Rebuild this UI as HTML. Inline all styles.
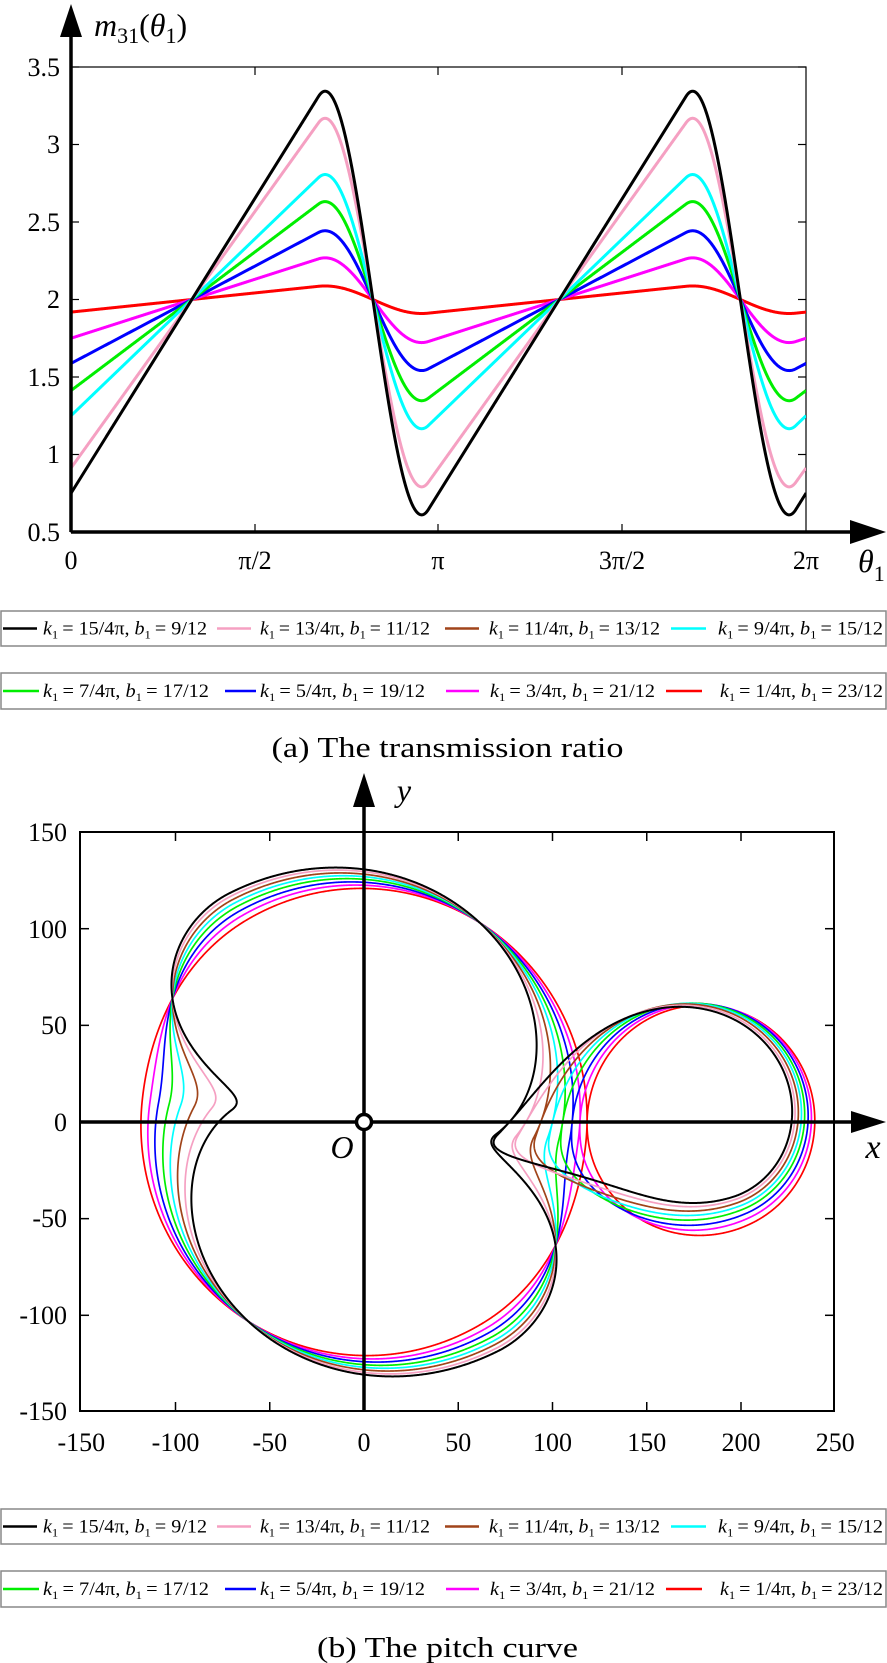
<!DOCTYPE html>
<html><head><meta charset="utf-8"><style>
html,body{margin:0;padding:0;background:#fff;}
svg{display:block;}
text{font-family:"Liberation Serif",serif;fill:#000;}
</style></head><body>
<svg id="s" width="887" height="1663" viewBox="0 0 887 1663" xmlns="http://www.w3.org/2000/svg">
<defs>
<clipPath id="c1"><rect x="71" y="67" width="735" height="465"/></clipPath>
<clipPath id="c2"><rect x="80" y="832" width="754" height="579"/></clipPath>
</defs>
<rect x="71" y="67" width="735" height="465" fill="none" stroke="#000" stroke-width="1.2"/>
<g id="topticks" stroke="#000" stroke-width="1.2"></g>
<g id="topcurves" clip-path="url(#c1)" fill="none" stroke-width="3" stroke-linejoin="round"></g>
<line x1="71" y1="532" x2="855" y2="532" stroke="#000" stroke-width="3.5"/>
<polygon points="886,532 850,520 850,544" fill="#000"/>
<line x1="71" y1="532" x2="71" y2="35" stroke="#000" stroke-width="3.5"/>
<polygon points="71,4 60,37 82,37" fill="#000"/>
<text x="94" y="36" font-size="32"><tspan font-style="italic">m</tspan><tspan font-size="22" dy="7">31</tspan><tspan dy="-7">(</tspan><tspan font-style="italic">θ</tspan><tspan font-size="22" dy="7">1</tspan><tspan dy="-7">)</tspan></text>
<g font-size="26" text-anchor="end">
<text x="60" y="76">3.5</text><text x="60" y="153">3</text><text x="60" y="231">2.5</text><text x="60" y="308">2</text><text x="60" y="386">1.5</text><text x="60" y="463">1</text><text x="60" y="541">0.5</text>
</g>
<g font-size="26" text-anchor="middle">
<text x="71" y="569">0</text><text x="255" y="569">π/2</text><text x="438" y="569">π</text><text x="622" y="569">3π/2</text><text x="806" y="569">2π</text>
</g>
<text x="858" y="572" font-size="32"><tspan font-style="italic">θ</tspan><tspan font-size="22" dy="9">1</tspan></text>

<g id="leg"></g>
<text x="447.5" y="757" font-size="29" text-anchor="middle" textLength="352" lengthAdjust="spacingAndGlyphs">(a) The transmission ratio</text>
<text x="447.5" y="1657" font-size="29" text-anchor="middle" textLength="261" lengthAdjust="spacingAndGlyphs">(b) The pitch curve</text>

<rect x="80" y="832" width="754" height="579" fill="none" stroke="#000" stroke-width="2"/>
<g id="botticks" stroke="#000" stroke-width="1.5"></g>
<g id="botcurves" clip-path="url(#c2)" fill="none" stroke-linejoin="round"></g>
<line x1="80" y1="1122" x2="856" y2="1122" stroke="#000" stroke-width="3.5"/>
<polygon points="886,1122 851,1111 851,1133" fill="#000"/>
<line x1="364" y1="1411" x2="364" y2="805" stroke="#000" stroke-width="3.5"/>
<polygon points="364,773 353,807 375,807" fill="#000"/>
<circle cx="364" cy="1122" r="7.5" fill="#fff" stroke="#000" stroke-width="3.5"/>
<text x="404" y="801" font-size="32" font-style="italic" text-anchor="middle">y</text>
<text x="342" y="1158" font-size="32" font-style="italic" text-anchor="middle">O</text>
<text x="873" y="1158" font-size="34" font-style="italic" text-anchor="middle">x</text>
<g font-size="26" text-anchor="end">
<text x="67" y="841">150</text><text x="67" y="938">100</text><text x="67" y="1034">50</text><text x="67" y="1131">0</text><text x="67" y="1227">-50</text><text x="67" y="1324">-100</text><text x="67" y="1420">-150</text>
</g>
<g font-size="26" text-anchor="middle" id="bxl"></g>
</svg>
<script>
var NS="http://www.w3.org/2000/svg";
function el(p,tag,attrs,txt){var e=document.createElementNS(NS,tag);for(var k in attrs)e.setAttribute(k,attrs[k]);if(txt!==undefined)e.textContent=txt;p.appendChild(e);return e;}
var PI=Math.PI;
var cols={black:"#000000",pink:"#f5a0c2",brown:"#a0441a",cyan:"#00ffff",green:"#00ee00",blue:"#0000ff",magenta:"#ff00ff",red:"#ff0000"};
var series=[["red",0.065],["magenta",0.2],["blue",0.33],["green",0.47],["cyan",0.6],["brown",0.73],["pink",0.87],["black",1]];
function F(t){t=((t%PI)+PI)%PI;var L=0.75+1.21*t;var c=2.585,h=0.47,S;
 if(t<c-h)S=0;else if(t>c+h)S=1;else S=0.5*(1-Math.cos(PI*(t-c+h)/(2*h)));
 return L-1.21*PI*S;}
function M(t,s){return 2+s*(F(t)-2);}
var tt=document.getElementById("topticks");
[255,438,622].forEach(function(x){el(tt,"line",{x1:x,y1:67,x2:x,y2:75});el(tt,"line",{x1:x,y1:532,x2:x,y2:524});});
for(var i=0;i<7;i++){var y=67+i*77.5;el(tt,"line",{x1:71,y1:y,x2:79,y2:y});el(tt,"line",{x1:806,y1:y,x2:798,y2:y});}
var tc=document.getElementById("topcurves");
series.forEach(function(sr){if(sr[0]=="brown")return;var d="";for(var t=0;t<=2*PI+0.001;t+=0.004){var x=71+t/(2*PI)*735,y=67+(3.5-M(t,sr[1]))*155;d+=(d?"L":"M")+x.toFixed(2)+","+y.toFixed(2);}
 el(tc,"path",{d:d,stroke:cols[sr[0]]});});
var bt=document.getElementById("botticks");
var bxl=document.getElementById("bxl");
function BX(x){return 364+1.885*x;}function BY(y){return 1122-1.933*y;}
[-150,-100,-50,0,50,100,150,200,250].forEach(function(v){var x=BX(v);if(v>-150&&v<250){el(bt,"line",{x1:x,y1:832,x2:x,y2:841});el(bt,"line",{x1:x,y1:1411,x2:x,y2:1402});}
 el(bxl,"text",{x:x.toFixed(1),y:1451},String(v));});
[-100,-50,0,50,100].forEach(function(v){var y=BY(v);el(bt,"line",{x1:80,y1:y,x2:89,y2:y});el(bt,"line",{x1:834,y1:y,x2:825,y2:y});});
var bc=document.getElementById("botcurves");
var a=180,del=0.0;
series.forEach(function(sr){var s=sr[1];var d="";
 for(var t=0;t<=2*PI+0.001;t+=0.003){var m=M(t,s),r=a*m/(1+m);var x=BX(r*Math.cos(t)),y=BY(r*Math.sin(t));d+=(d?"L":"M")+x.toFixed(2)+","+y.toFixed(2);}
 d+="Z";
 var N=2000,dt=PI/N,cum=[0],acc=0;for(var i=1;i<=N;i++){acc+=0.5*(M((i-1)*dt,s)+M(i*dt,s))*dt;cum.push(acc);}
 var k=2*PI/acc;var d2="";
 for(var i=0;i<=N;i+=2){var t=i*dt,m=M(t,s),r3=a/(1+m),ang=PI-cum[i]*k+del;var x=BX(a+r3*Math.cos(ang)),y=BY(r3*Math.sin(ang));d2+=(d2?"L":"M")+x.toFixed(2)+","+y.toFixed(2);}
 d2+="Z";
 el(bc,"path",{d:d+d2,stroke:cols[sr[0]],"stroke-width":sr[0]=="black"?2:1.7});});
var lg=document.getElementById("leg");
var rowsA=[[["black",3,37,43,207,"15/4π","9/12"],["pink",217,251,260,430,"13/4π","11/12"],["brown",445,479,489,660,"11/4π","13/12"],["cyan",671,706,718,883,"9/4π","15/12"]],
[["green",3,39,43,209,"7/4π","17/12"],["blue",225,256,260,425,"5/4π","19/12"],["magenta",446,479,490,655,"3/4π","21/12"],["red",666,702,720,883,"1/4π","23/12"]]];
function legend(y0,y1,row){el(lg,"rect",{x:1,y:y0,width:885,height:y1-y0,fill:"none",stroke:"#888","stroke-width":1.5});
 var cy=(y0+y1)/2;row.forEach(function(e){el(lg,"line",{x1:e[1],y1:cy,x2:e[2],y2:cy,stroke:cols[e[0]],"stroke-width":2.5});
 var t=el(lg,"text",{x:e[3],y:cy+6,"font-size":19,textLength:e[4]-e[3],lengthAdjust:"spacingAndGlyphs"});
 el(t,"tspan",{"font-style":"italic"},"k");el(t,"tspan",{"font-size":12,dy:4},"1");el(t,"tspan",{dy:-4},"\u2009= "+e[5]+", ");
 el(t,"tspan",{"font-style":"italic"},"b");el(t,"tspan",{"font-size":12,dy:4},"1");el(t,"tspan",{dy:-4},"\u2009= "+e[6]);});}
legend(611,646,rowsA[0]);legend(673,709,rowsA[1]);legend(1509,1544,rowsA[0]);legend(1571,1607,rowsA[1]);
</script>
</body></html>
